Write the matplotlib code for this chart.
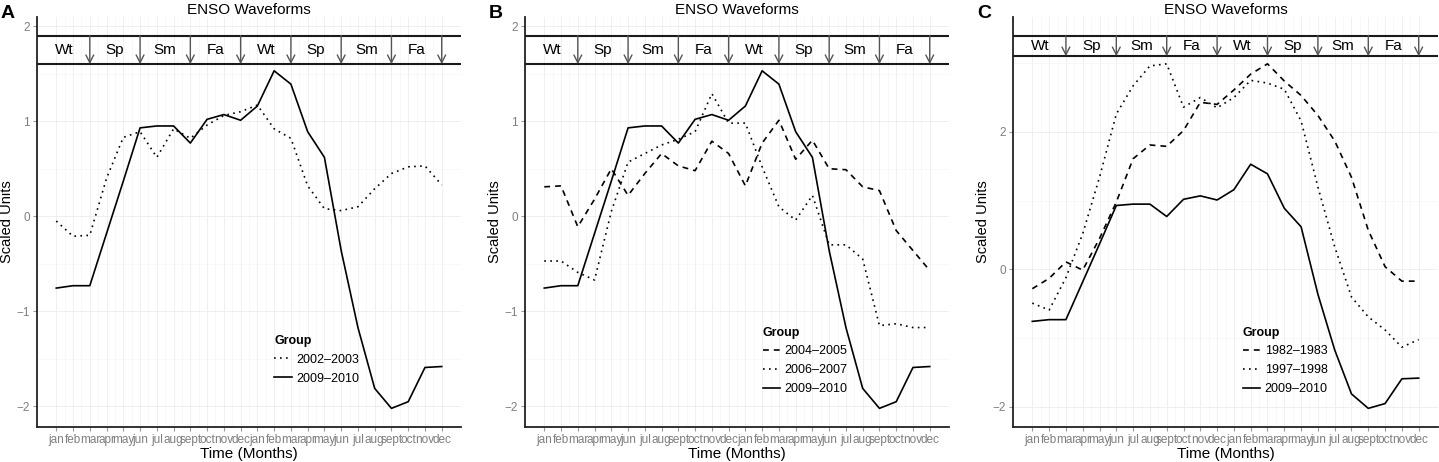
import numpy as np
import matplotlib.pyplot as plt

plt.rcParams['font.family'] = ['Liberation Sans', 'DejaVu Sans']

months = ['jan', 'feb', 'mar', 'apr', 'may', 'jun', 'jul', 'aug',
          'sept', 'oct', 'nov', 'dec'] * 2
seasons = ['Wt', 'Sp', 'Sm', 'Fa'] * 2

# scaled ENSO index, two years of monthly values
y1982 = [-0.28, -0.13, 0.11, -0.01, 0.45, 0.98, 1.61, 1.81, 1.79, 2.02, 2.43, 2.40,
         2.61, 2.84, 2.99, 2.74, 2.53, 2.24, 1.87, 1.34, 0.57, 0.04, -0.17, -0.17]
y1997 = [-0.49, -0.59, -0.12, 0.52, 1.34, 2.26, 2.67, 2.96, 2.99, 2.36, 2.50, 2.35,
         2.50, 2.75, 2.71, 2.62, 2.16, 1.20, 0.33, -0.40, -0.69, -0.88, -1.13, -1.02]
y2002 = [-0.05, -0.21, -0.20, 0.40, 0.83, 0.89, 0.62, 0.92, 0.82, 0.96, 1.06, 1.10,
         1.17, 0.92, 0.82, 0.32, 0.08, 0.06, 0.10, 0.29, 0.45, 0.52, 0.53, 0.33]
y2004 = [0.31, 0.32, -0.11, 0.18, 0.50, 0.22, 0.45, 0.66, 0.53, 0.48, 0.79, 0.66,
         0.32, 0.77, 1.01, 0.60, 0.80, 0.50, 0.49, 0.31, 0.27, -0.15, -0.36, -0.57]
y2006 = [-0.47, -0.47, -0.59, -0.67, 0.05, 0.57, 0.66, 0.75, 0.81, 0.89, 1.29, 0.98,
         0.98, 0.52, 0.10, -0.04, 0.22, -0.30, -0.30, -0.45, -1.15, -1.13, -1.17, -1.17]
y2009 = [-0.755, -0.73, -0.73, -0.18, 0.37, 0.93, 0.95, 0.95, 0.77, 1.02, 1.07, 1.01,
         1.16, 1.53, 1.39, 0.89, 0.62, -0.36, -1.17, -1.81, -2.02, -1.95, -1.59, -1.58]

DOT = (0, (1, 2.6))
DASH = (0, (3.5, 3))

x = np.arange(1, 25)
fig = plt.figure(figsize=(14.39, 4.62), dpi=100)
W, H = 1439, 462


def panel(left, right, letter, series, bar, yticks, legend_xy):
    ax = fig.add_axes([left / W, 35 / H, (right - left) / W, 410 / H])
    for lab, vals, ls in series:
        ax.plot(x, vals, color='black', lw=1.2, ls=ls, label=lab)

    allv = np.concatenate([v for _, v, _ in series])
    lo, hi = allv.min(), bar[1]
    pad = 0.05 * (hi - lo)

    ax.set_xticks(x)
    ax.set_xticklabels(months)
    ax.set_xticks(np.arange(1.5, 24.5, 1), minor=True)
    ax.set_yticks(yticks)
    step = yticks[1] - yticks[0]
    ax.set_yticks(np.arange(yticks[0] - step / 2, hi + pad, step), minor=True)
    ax.set_ylim(lo - pad, hi + pad)
    ax.set_xlim(1 - 0.05 * 23, 24 + 0.05 * 23)

    # season bar
    for yb in bar:
        ax.axhline(yb, color='#1a1a1a', lw=1.5, zorder=3)
    for xa in range(3, 25, 3):
        ax.annotate('', xy=(xa, bar[0]), xytext=(xa, bar[1]),
                    arrowprops=dict(arrowstyle='->,head_length=0.55,head_width=0.28',
                                    color='#555555', lw=1.0, shrinkA=0, shrinkB=0))
    for i, s in enumerate(seasons):
        ax.text(1.5 + 3 * i, (bar[0] + bar[1]) / 2, s, ha='center', va='center',
                fontsize=11)

    ax.grid(which='major', color='#ececec', lw=0.6)
    ax.grid(which='minor', color='#f6f6f6', lw=0.5)
    ax.set_axisbelow(True)
    ax.tick_params(which='major', labelsize=8.5, labelcolor='#7f7f7f',
                   color='#999999', length=3, width=0.8, pad=2)
    ax.tick_params(which='minor', length=0)

    for sp in ['top', 'right']:
        ax.spines[sp].set_visible(False)
    for sp in ['left', 'bottom']:
        ax.spines[sp].set_color('#222222')
        ax.spines[sp].set_linewidth(1.3)

    ax.set_xlabel('Time (Months)', fontsize=11, labelpad=1)
    ax.set_ylabel('Scaled Units', fontsize=10.5)
    ax.yaxis.set_label_coords(-0.055, 0.5)
    ax.set_title('ENSO Waveforms', fontsize=11, pad=2.5)
    ax.text(-0.085, 1.009, letter, transform=ax.transAxes, fontsize=14,
            fontweight='bold', ha='left', va='center')

    ax.legend(loc='upper left', bbox_to_anchor=legend_xy, frameon=False,
              title='Group', title_fontproperties={'weight': 'bold', 'size': 9},
              alignment='left', fontsize=9, handlelength=1.4, handletextpad=0.35,
              labelspacing=0.55, borderpad=0, borderaxespad=0)
    return ax


panel(37, 461, 'A', [('2002\u20132003', y2002, DOT), ('2009\u20132010', y2009, '-')],
      (1.6, 1.9), [-2, -1, 0, 1, 2], (0.559, 0.225))
panel(525, 949, 'B', [('2004\u20132005', y2004, DASH), ('2006\u20132007', y2006, DOT),
                      ('2009\u20132010', y2009, '-')],
      (1.6, 1.9), [-2, -1, 0, 1, 2], (0.561, 0.245))
panel(1013, 1438, 'C', [('1982\u20131983', y1982, DASH), ('1997\u20131998', y1997, DOT),
                        ('2009\u20132010', y2009, '-')],
      (3.1, 3.4), [-2, 0, 2], (0.541, 0.245))

fig.savefig('out.png', dpi=100)
